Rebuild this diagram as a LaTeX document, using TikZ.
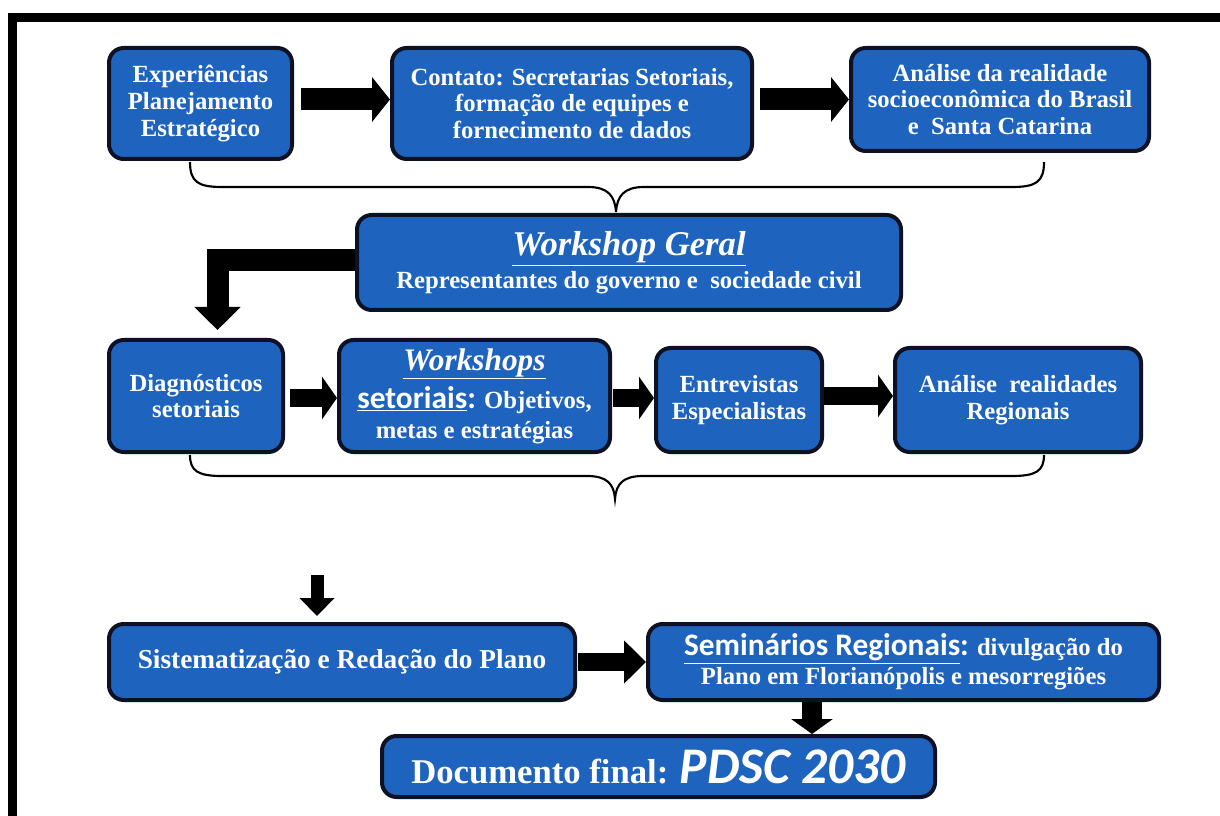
\documentclass[tikz,border=0pt]{standalone}
\usepackage{fontspec}
\setmainfont{Liberation Serif}
\newfontfamily\carl{Carlito}
\usetikzlibrary{arrows.meta,calc}
\definecolor{boxblue}{RGB}{30,100,190}
\definecolor{boxedge}{RGB}{12,18,35}

\tikzset{
  stage/.style={draw=boxedge, line width=3pt, fill=boxblue, rounded corners=11pt,
    text=white, align=center, inner sep=0pt,
    font=\bfseries\fontsize{18.5}{20}\selectfont},
  brace line/.style={draw=black, line width=1.6pt},
  fat top/.style={line width=16.5pt, -{Triangle[width=33pt, length=13.5pt]}},
  fat bent/.style={line width=16.5pt, -{Triangle[width=33.75pt, length=17.25pt]}},
  fat row/.style={line width=13.5pt, -{Triangle[width=31.5pt, length=11.25pt]}},
  fat small/.style={line width=9.75pt, -{Triangle[width=25.5pt, length=13.5pt]}},
  fat low/.style={line width=13.5pt, -{Triangle[width=31.5pt, length=16.5pt]}},
  fat down/.style={line width=15pt, -{Triangle[width=30.75pt, length=11.25pt]}},
}

\begin{document}
\begin{tikzpicture}[x=0.75pt, y=-0.75pt]
  % page and frame
  \fill[white] (0,0) rectangle (1220,816);
  \useasboundingbox (0,0) rectangle (1220,816);
  \fill[black] (8,13) rectangle (1220,22);
  \fill[black] (8,13) rectangle (17,816);

  % first row
  \node[stage, minimum width=137.25pt, minimum height=83.25pt] (A) at (200.5,103.5)
    {Experiências\\Planejamento\\Estratégico};
  \node[stage, minimum width=270pt, minimum height=83.25pt] (B) at (572,103.5)
    {Contato: Secretarias Setoriais,\\formação de equipes e\\fornecimento de dados};
  \node[stage, minimum width=223.5pt, minimum height=77.25pt] (C) at (1000,99.5)
    {Análise da realidade\\socioeconômica do Brasil\\e\ \ Santa Catarina};

  % general workshop
  \node[stage, minimum width=408pt, minimum height=71.25pt] (W) at (629,262.5)
    {{\itshape\fontsize{26}{30}\selectfont\underline{Workshop Geral}}\\[3pt]
     Representantes do governo e\ \ sociedade civil};

  % second row
  \node[stage, minimum width=130.5pt, minimum height=84pt] (D) at (196,396)
    {Diagnósticos\\setoriais};
  \node[stage, minimum width=203.25pt, minimum height=84pt] (E) at (474.5,396)
    {{\itshape\fontsize{23.5}{26}\selectfont\underline{Workshops}}\\[4pt]
     {\carl\fontsize{23.5}{26}\selectfont\underline{setoriais}:} Objetivos,\\[2.5pt]
     metas e estratégias};
  \node[stage, minimum width=124.5pt, minimum height=78pt] (F) at (739,400)
    {Entrevistas\\Especialistas};
  \node[stage, minimum width=184.5pt, minimum height=78pt] (G) at (1018,400)
    {Análise\ \ realidades\\Regionais};

  % third row
  \node[stage, minimum width=349.5pt, minimum height=57pt,
        font=\bfseries\fontsize{20.5}{22}\selectfont] (H) at (342,662)
    {Sistematização e Redação do Plano};
  \node[stage, minimum width=383.25pt, minimum height=57pt] (I) at (903.5,662)
    {{\carl\fontsize{23.5}{26}\selectfont\underline{Seminários Regionais}:} divulgação do\\[1.75pt]
     Plano em Florianópolis e mesorregiões};
  \node[stage, minimum width=414.75pt, minimum height=45.75pt] (J) at (658.5,766.5)
    {{\fontsize{26}{28}\selectfont Documento final: }{\carl\bfseries\itshape\fontsize{38.5}{40}\selectfont PDSC 2030}};

  % braces gathering each row
  \coordinate (b1l) at (190,162);
  \coordinate (b1t) at (616,212);
  \coordinate (b1r) at (1044,162);
  \draw[brace line] (b1l) .. controls (190,182) and (198,187) .. (222,187)
    -- (588,187) .. controls (608,187) and (615,196) .. (b1t)
    .. controls (617,196) and (624,187) .. (644,187)
    -- (1012,187) .. controls (1036,187) and (1044,182) .. (b1r);

  \coordinate (b2l) at (190,455);
  \coordinate (b2t) at (615,499);
  \coordinate (b2r) at (1044,455);
  \draw[brace line] (b2l) .. controls (190,471) and (198,476) .. (222,476)
    -- (587,476) .. controls (607,476) and (614,484) .. (b2t)
    .. controls (616,484) and (623,476) .. (643,476)
    -- (1012,476) .. controls (1036,476) and (1044,471) .. (b2r);

  % block arrows
  \draw[fat top] ($(A.east)+(7,-4)$) -- ($(B.west)+(0,-4)$);
  \draw[fat top] ($(B.east)+(6,-4)$) -- (C.west);
  \draw[fat bent] ($(W.west)+(0,-2.5)$) -| ($(D.north)+(21.5,-8)$);
  \draw[fat row] ($(D.east)+(5,2)$) -- ($(E.west)+(0,2)$);
  \draw[fat row] ($(E.east)+(1,2)$) -- ($(F.west)+(0,-2)$);
  \draw[fat row] ($(F.east)+(0,-4)$) -- ($(G.west)+(0,-4)$);
  \coordinate (s0) at (317,575);
  \draw[fat small] (s0) -- ($(s0 |- H.north)+(0,-6)$);
  \draw[fat low] ($(H.east)+(1,0)$) -- (I.west);
  \draw[fat down] ($(I.south)+(-91.5,0)$) -- ($(J.north)+(153.5,0)$);
\end{tikzpicture}
\end{document}
